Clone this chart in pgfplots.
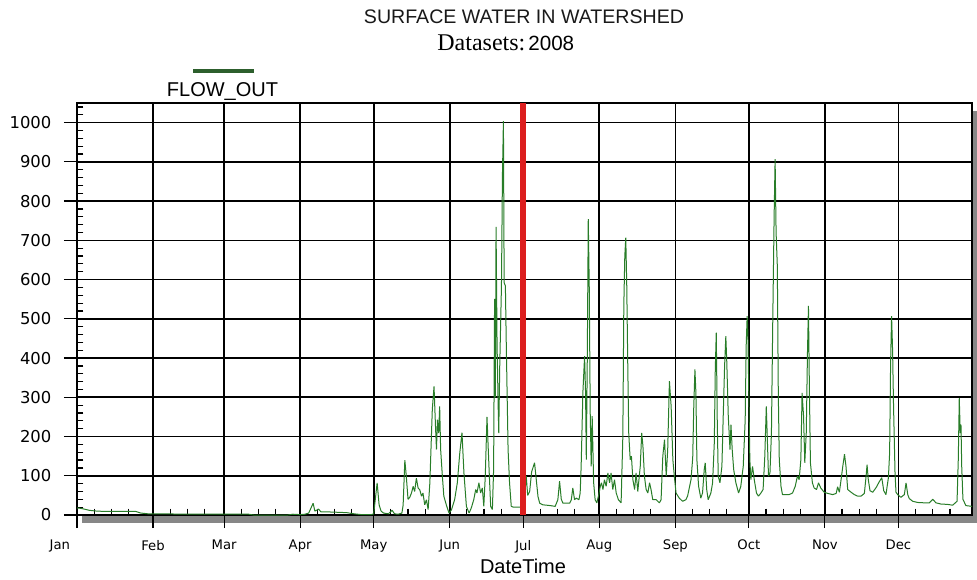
\documentclass[border=0pt]{standalone}
\usepackage{fontspec}
\setmainfont{Liberation Sans}
\newfontfamily\dejavu{DejaVu Sans}
\newfontfamily\timesf{Liberation Serif}
\usepackage{pgfplots}
\pgfplotsset{compat=1.18}

\definecolor{flowgreen}{RGB}{40,125,40}
\definecolor{legendgreen}{RGB}{45,95,45}
\definecolor{markred}{RGB}{220,30,30}
\definecolor{shadowgray}{RGB}{135,135,135}

\begin{document}
\begin{tikzpicture}
\useasboundingbox (-38.5pt,-32pt) rectangle (450pt,257.5pt);
% drop shadow behind the plot area
\fill[shadowgray] (2.5pt,-4pt) rectangle (450pt,202pt);

\begin{axis}[
    at={(0,0)}, anchor=south west,
    scale only axis, width=447.5pt, height=206pt,
    xmin=0, xmax=365, ymin=0, ymax=1050,
    axis background/.style={fill=white},
    axis line style={black, line width=0.75pt},
    xtick={0,31,60,91,121,152,182,213,244,274,305,335},
    xticklabels={\makebox[0pt][r]{Jan\kern3.5pt},Feb,Mar,Apr,May,Jun,Jul,Aug,Sep,Oct,Nov,Dec},
    minor xtick={7,14,21,38,45,52,67,74,81,98,105,112,128,135,142,159,166,173,
                 189,196,203,220,227,234,251,258,265,281,288,295,312,319,326,342,349,356},
    ytick={0,100,...,1000},
    minor ytick={20,40,...,1040},
    tick pos=left,
    tick align=outside,
    major tick length=6.5pt,
    minor tick length=-3.2pt,
    tick style={black, line width=0.6pt},
    grid=major,
    major grid style={black, line width=0.8pt},
    /pgf/number format/.cd, 1000 sep={}, assume math mode=true, /pgfplots/.cd,
    yticklabel style={font=\dejavu\fontsize{8.2}{9}\selectfont, xshift=-2.8pt},
    xticklabel style={font=\dejavu\fontsize{6.6}{7}\selectfont, yshift=-2.5pt},
]

% FLOW_OUT (day of year, value)
\addplot[flowgreen, line width=0.5pt, line join=bevel] coordinates {
(0,18) (1.5,17) (3,15) (5,12) (8,10) (12,9) (18,9) (24,9) (26,5) (29,3) (35,3) (45,2)
(55,2) (65,2) (70,2) (72,0) (86,0) (88,2) (91,1) (93,2) (94.5,5) (96.3,30) (97,10)
(98.5,15) (99.5,8) (102,8) (106,7) (110,6) (113,3) (116,1) (120,1)
(121,3) (122.4,82) (123.2,26) (124,10) (125,5) (127,3) (128.5,12) (129.5,3) (131,2)
(132.5,5) (133,25) (133.7,140) (134.3,98) (135,40) (135.7,45) (136.4,56) (137.1,73)
(137.7,60) (138.4,94) (139.1,69) (139.8,64) (140.5,48) (141.1,56) (141.8,26) (142.5,39)
(143.2,14) (143.9,82) (144.9,269) (145.6,328) (146.2,226) (146.6,167) (147,243)
(147.5,209) (147.9,277) (148.3,167) (149,99) (149.6,48) (150.6,26) (151.7,5) (152.7,13)
(154,39) (155.1,82) (156.1,158) (157,210) (157.8,107) (158.8,22) (159.9,5) (160.8,18)
(161.8,39) (162.6,65) (163.1,56) (163.9,82) (164.6,56) (165.3,69) (165.9,22) (166.5,99)
(167.2,250) (168,124) (168.7,22) (169.4,14) (169.9,116) (170.3,551) (170.6,300)
(170.9,734) (171.3,440) (171.7,295) (172,209) (172.4,380) (173.1,584) (173.5,866)
(173.9,1004) (174.2,592) (174.7,584) (175.1,422) (175.8,167) (176.4,82) (177.1,22)
(178,20) (181.7,20)
(182.5,45) (183.2,99) (183.8,50) (184.6,60) (185.4,110) (186.6,133) (187.3,90) (188,47)
(188.7,30) (190,26) (193,24) (195,22) (196.1,39) (196.8,86) (197.5,40) (198.2,30)
(199.5,30) (200.9,30) (201.6,39) (202.2,69) (202.9,39) (203.6,43) (204.7,39) (205.2,56)
(205.6,124) (206.3,311) (207,405) (207.4,311) (207.7,141) (208.1,397) (208.5,754)
(208.9,584) (209.3,260) (209.7,124) (210.1,252) (210.7,82) (211.3,39) (212,31)
(212.8,52) (213.4,73) (213.9,82) (214.5,65) (215.1,90) (215.8,73) (216.5,107) (217.2,82)
(217.8,107) (218.5,65) (219.2,90) (219.9,56) (220.8,39) (221.9,31) (222.6,200) (223,533)
(223.4,660) (223.8,707) (224.2,584) (224.6,388) (225,209) (225.6,141) (226.1,150)
(226.7,90) (227.4,65) (228,107) (228.7,60) (229.7,124) (230.3,209) (230.8,175) (231.4,99)
(232.1,65) (232.8,56) (233.5,82) (234.1,65) (234.8,39) (236.2,39) (237.5,31) (238.2,39)
(238.9,150) (239.6,192) (240.3,99) (240.9,167) (241.6,341) (242.3,277) (243,141)
(243.6,99) (244.3,56)
(245.6,43) (247,35) (248.3,39) (249,48) (250.4,90) (251.1,146) (251.5,269) (252,371)
(252.4,311) (252.8,141) (253.5,73) (254.4,43) (255.1,56) (255.8,116) (256.2,133)
(256.8,65) (257.4,39) (258.5,56) (259.2,82) (259.9,184) (260.3,371) (260.7,465)
(261.1,243) (261.5,99) (262.2,82) (263,124) (263.5,243) (264.1,380) (264.6,456) (265,388)
(265.6,252) (266.3,167) (266.7,230) (267.2,167) (267.8,116) (268.7,82) (269.8,56)
(270.7,73) (271.7,124) (272.5,243) (272.9,430) (273.3,507) (273.6,465) (274,294)
(274.4,141) (274.8,90) (275.5,124) (276.2,90) (277.1,56) (277.9,48) (278.9,56) (279.8,65)
(280.5,150) (281.1,277) (281.5,200) (282,99) (282.6,107) (283.2,209) (283.7,473)
(284.3,762) (284.7,907) (285.1,720) (285.6,635) (286,311) (286.4,141) (287.1,73)
(287.7,52) (289.1,52) (290.4,52) (291.8,56) (292.9,73) (293.8,99) (294.5,90) (295.2,141)
(295.7,311) (296.3,252) (296.8,133) (297.4,209) (297.9,414) (298.3,533) (298.7,311)
(299.1,133) (299.9,82) (300.6,69) (301.6,65) (302.4,82) (303.3,69) (304.7,58)
(306.2,55) (308.2,52) (309.6,55) (310.2,72) (310.9,58) (311.6,90) (312.3,124) (313,155)
(313.6,124) (314.3,65) (315.7,58) (317,52) (318.4,48) (319.7,48) (321.1,55) (321.8,99)
(322.2,128) (322.7,90) (323.4,62) (324.5,58) (325.9,70) (327.2,85) (328.2,95) (329,62)
(329.9,52) (330.9,95) (331.4,158) (331.8,388) (332.2,507) (332.6,421) (333,277)
(333.6,107) (334,58) (334.7,52) (336,45) (337.4,52) (338.1,82) (338.8,52) (339.4,42)
(340.8,35) (342.8,32) (345.6,31) (347.6,31) (349,40) (350.3,31) (352.3,28) (355.1,27)
(357.1,25) (358.9,35) (359.4,141) (359.8,298) (360.2,209) (360.5,230) (360.8,124)
(361.3,40) (362.5,24) (365,22)
};

% current-date marker at 1 July
\addplot[markred, line width=3pt] coordinates {(182,0) (182,1050)};
\end{axis}

% titles
\node[text=black!90] at (223.5pt,249pt) {\fontsize{9.8}{12}\selectfont SURFACE WATER IN WATERSHED};
\node[anchor=west, inner sep=0pt] at (180pt,236pt)
  {{\timesf\fontsize{12}{14}\selectfont Datasets:}\hspace{1.5pt}{\fontsize{10.3}{12}\selectfont 2008}};

% legend
\draw[legendgreen, line width=2pt] (58pt,222pt) -- (88.5pt,222pt);
\node at (72.75pt,211.5pt) {\fontsize{10}{12}\selectfont FLOW\_OUT};

% x axis title
\node at (223pt,-25.5pt) {\fontsize{10}{12}\selectfont DateTime};
\end{tikzpicture}
\end{document}
